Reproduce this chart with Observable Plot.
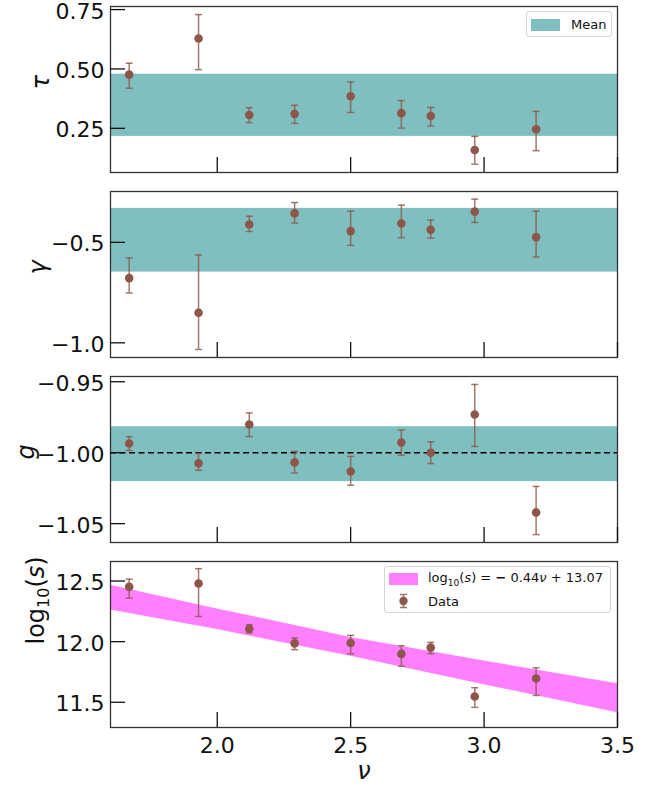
<!DOCTYPE html>
<html><head><meta charset="utf-8">
<script src="https://cdn.jsdelivr.net/npm/d3@7"></script>
<script src="https://cdn.jsdelivr.net/npm/@observablehq/plot@0.6"></script>
<style>
body{margin:0;background:#fff;font-family:"DejaVu Sans",sans-serif}
#wrap{position:relative;width:665px;height:788px;overflow:hidden}
.panel{position:absolute;left:0}
.legend{position:absolute;background:rgba(255,255,255,0.85);border:1px solid #d4d4d4;border-radius:3px;font-size:13px;color:#111;box-sizing:border-box}
.row{position:absolute;display:flex;align-items:center;white-space:nowrap}
.sw{display:inline-block}
</style>
</head><body>
<div id="wrap"></div>
<script>
// ---- data ----
const nu      = [1.67, 1.93, 2.12, 2.29, 2.50, 2.69, 2.80, 2.965, 3.195];
const tau     = [0.476, 0.628, 0.306, 0.311, 0.385, 0.314, 0.302, 0.159, 0.246];
const tauHi   = [0.524, 0.729, 0.337, 0.347, 0.445, 0.367, 0.338, 0.216, 0.321];
const tauLo   = [0.419, 0.497, 0.274, 0.271, 0.317, 0.251, 0.260, 0.099, 0.156];
const tauBand = [0.216, 0.478];

const gamma     = [-0.678, -0.850, -0.411, -0.356, -0.444, -0.406, -0.437, -0.347, -0.474];
const gammaHi   = [-0.578, -0.563, -0.370, -0.302, -0.345, -0.315, -0.389, -0.285, -0.345];
const gammaLo   = [-0.752, -1.033, -0.446, -0.404, -0.515, -0.477, -0.479, -0.401, -0.573];
const gammaBand = [-0.648, -0.331];

const g     = [-0.9935, -1.0075, -0.9801, -1.0068, -1.0133, -0.9928, -1.0000, -0.9731, -1.0421];
const gHi   = [-0.9888, -1.0005, -0.9720, -0.9991, -1.0026, -0.9841, -0.9923, -0.9519, -1.0238];
const gLo   = [-0.9984, -1.0124, -0.9886, -1.0143, -1.0229, -1.0019, -1.0077, -0.9956, -1.0577];
const gBand = [-1.0204, -0.9817];
const gRef  = [-1.0];

const logS   = [12.452, 12.479, 12.107, 11.986, 11.989, 11.899, 11.951, 11.548, 11.696];
const logSHi = [12.515, 12.602, 12.140, 12.030, 12.052, 11.967, 11.994, 11.620, 11.784];
const logSLo = [12.359, 12.208, 12.071, 11.934, 11.899, 11.797, 11.901, 11.458, 11.556];
const fitNu  = [1.6, 2.0, 2.5, 3.0, 3.5];
const fitLo  = [12.260, 12.100, 11.880, 11.645, 11.414];
const fitHi  = [12.466, 12.270, 12.035, 11.840, 11.652];

const xDomain = [1.6, 3.5];
const xTicks  = [2.0, 2.5, 3.0, 3.5];
const tauTicks = [0.25, 0.50, 0.75];
const gammaTicks = [-1.0, -0.5];
const gTicks = [-1.05, -1.00, -0.95];
const logTicks = [11.5, 12.0, 12.5];

// ---- styling ----
const brown = "#8c564b";
const teal = "#80bfbf";
const pink = "#ff80ff";
const spine = "#333";
const capSymbol = {draw(ctx){ ctx.moveTo(-3.5,0); ctx.lineTo(3.5,0); }};

function panel({y, hi, lo, domain, ticks, fmt, label, labelDx=-70, labelItalic=true, top, height, marginBottom, under=[], over=[], xLabels=false}) {
  const data = nu.map((x,i)=>({x, y:y[i], hi:hi[i], lo:lo[i]}));
  const marks = [
    ...under,
    ...over,
    Plot.ruleX(data, {x:"x", y1:"lo", y2:"hi", stroke:brown, strokeWidth:1.5, strokeOpacity:0.8}),
    Plot.dot(data, {x:"x", y:"hi", symbol:capSymbol, stroke:brown, strokeWidth:1.5, strokeOpacity:0.8, fill:"none"}),
    Plot.dot(data, {x:"x", y:"lo", symbol:capSymbol, stroke:brown, strokeWidth:1.5, strokeOpacity:0.8, fill:"none"}),
    Plot.dot(data, {x:"x", y:"y", r:4.3, fill:brown, stroke:"none"}),
    Plot.frame({stroke:spine, strokeWidth:1.3}),
    Plot.axisY(ticks, {tickSize:-15, strokeWidth:1.3, stroke:"#111", tickFormat:()=>"", label:null}),
    Plot.axisY(ticks, {tickSize:0, tickPadding:6, dy:2, tickFormat:fmt, label:null, fill:"#111"}),
    Plot.axisX(xTicks, {tickSize:-15, strokeWidth:1.3, stroke:"#111", tickFormat:()=>"", label:null}),
    Plot.text([label], {frameAnchor:"left", dx:labelDx, rotate:-90, fontSize:24, fontStyle:labelItalic?"italic":"normal", fill:"#111"})
  ];
  if (xLabels) {
    marks.push(Plot.axisX(xTicks, {tickSize:0, tickPadding:10, tickFormat:".1f", label:null, fill:"#111"}));
    marks.push(Plot.text(["ν"], {frameAnchor:"bottom", dy:51, fontSize:24, fontStyle:"italic", fill:"#111"}));
  }
  const svg = Plot.plot({
    width:665, height, marginLeft:110, marginRight:48, marginTop:6, marginBottom,
    style:{fontSize:"22px", fontFamily:"DejaVu Sans, sans-serif", background:"transparent", overflow:"visible"},
    x:{domain:xDomain},
    y:{domain},
    marks
  });
  // math-style label: log with subscript 10 and italic s
  svg.querySelectorAll("text").forEach(t => {
    if (t.textContent === "log₁₀(s)") {
      t.innerHTML = 'log<tspan font-size="16" dy="5">10</tspan><tspan dy="-5">(</tspan><tspan font-style="italic">s</tspan>)';
    }
  });
  const div = document.createElement("div");
  div.className = "panel";
  div.style.top = top + "px";
  div.appendChild(svg);
  document.getElementById("wrap").appendChild(div);
}

const bandRect = (b) => Plot.rect([b], {x1:()=>xDomain[0], x2:()=>xDomain[1], y1:d=>d[0], y2:d=>d[1], fill:teal});

panel({y:tau, hi:tauHi, lo:tauLo, domain:[0.064, 0.763], ticks:tauTicks, fmt:".2f", label:"τ", labelDx:-69,
  top:0, height:185, marginBottom:13, under:[bandRect(tauBand)]});
panel({y:gamma, hi:gammaHi, lo:gammaLo, domain:[-1.073, -0.247], ticks:gammaTicks, fmt:".1f", label:"γ", labelDx:-72,
  top:185, height:185, marginBottom:13, under:[bandRect(gammaBand)]});
panel({y:g, hi:gHi, lo:gLo, domain:[-1.0633, -0.9463], ticks:gTicks, fmt:".2f", label:"g", labelDx:-84,
  top:370, height:185, marginBottom:13, under:[bandRect(gBand)],
  over:[Plot.ruleY(gRef, {stroke:"#000", strokeWidth:1.6, strokeDasharray:"6,3.5"})]});
const fitData = fitNu.map((x,i)=>({x, lo:fitLo[i], hi:fitHi[i]}));
panel({y:logS, hi:logSHi, lo:logSLo, domain:[11.292, 12.661], ticks:logTicks, fmt:".1f", label:"log₁₀(s)", labelDx:-74, labelItalic:false,
  top:555, height:233, marginBottom:61, xLabels:true,
  under:[Plot.areaY(fitData, {x:"x", y1:"lo", y2:"hi", fill:pink})]});

// ---- legends ----
const wrap = document.getElementById("wrap");
const l1 = document.createElement("div");
l1.className = "legend";
Object.assign(l1.style, {left:"526px", top:"11px", width:"86px", height:"26px"});
l1.innerHTML = `<div class="row" style="left:4px;top:6px;height:13px">
  <span class="sw" style="width:29px;height:12px;background:${teal}"></span>
  <span style="margin-left:11px">Mean</span></div>`;
wrap.appendChild(l1);

const l4 = document.createElement("div");
l4.className = "legend";
Object.assign(l4.style, {left:"384px", top:"566px", width:"227px", height:"47px"});
l4.innerHTML = `<div class="row" style="left:4px;top:5px;height:14px">
  <span class="sw" style="width:29px;height:12px;background:${pink}"></span>
  <span style="margin-left:10px">log<sub style="font-size:9px">10</sub>(<i>s</i>) = <b>−</b> 0.44<i>ν</i> + 13.07</span></div>
  <div class="row" style="left:4px;top:26px;height:16px">
  <svg width="29" height="16"><g stroke="${brown}" stroke-opacity="0.8" stroke-width="1.5"><line x1="14.5" x2="14.5" y1="1.5" y2="14.5"/><line x1="11" x2="18" y1="1.5" y2="1.5"/><line x1="11" x2="18" y1="14.5" y2="14.5"/></g><circle cx="14.5" cy="8" r="4.2" fill="${brown}"/></svg>
  <span style="margin-left:10px">Data</span></div>`;
wrap.appendChild(l4);
</script>
</body></html>
